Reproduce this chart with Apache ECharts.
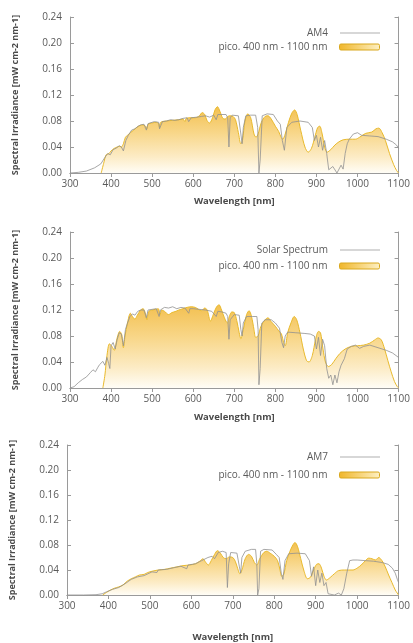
<!DOCTYPE html>
<html>
<head>
<meta charset="utf-8">
<script src="https://cdn.jsdelivr.net/npm/echarts@6/dist/echarts.min.js"></script>
<style>
  html, body { margin: 0; padding: 0; background: #fff; }
  #chart { width: 413px; height: 643px; }
</style>
</head>
<body>
<div id="chart"></div>
<script>
// [wavelength nm, irradiance]
const am4 = [[300,0],[320,0.001],[340,0.003],[360,0.008],[375,0.014],[385,0.024],[392,0.03],[398,0.028],[405,0.036],[412,0.038],[420,0.042],[425,0.04],[430,0.034],[436,0.05],[442,0.058],[450,0.066],[458,0.068],[466,0.072],[472,0.074],[480,0.075],[486,0.066],[490,0.076],[495,0.077],[505,0.079],[516,0.078],[518,0.068],[525,0.079],[535,0.08],[545,0.082],[555,0.081],[565,0.082],[575,0.084],[585,0.085],[589,0.079],[595,0.085],[610,0.086],[620,0.087],[630,0.088],[640,0.086],[650,0.089],[656,0.082],[660,0.09],[670,0.09],[680,0.09],[684,0.085],[687,0.04],[690,0.085],[695,0.089],[710,0.088],[716,0.06],[719,0.045],[722,0.07],[728,0.088],[740,0.089],[752,0.089],[757,0.07],[760,0],[763,0.02],[768,0.088],[780,0.091],[795,0.09],[805,0.08],[812,0.075],[817,0.05],[822,0.035],[828,0.07],[840,0.078],[860,0.08],[880,0.078],[890,0.07],[895,0.05],[900,0.058],[905,0.04],[910,0.055],[915,0.035],[920,0.05],[925,0.03],[930,0.005],[940,0.01],[950,0],[960,0.012],[965,0.006],[970,0.03],[975,0.045],[980,0.052],[990,0.06],[1000,0.062],[1010,0.058],[1030,0.057],[1050,0.056],[1070,0.052],[1085,0.048],[1095,0.043],[1100,0.038]];

const pico1 = [[376,0],[382,0.015],[388,0.028],[395,0.03],[400,0.034],[408,0.038],[415,0.04],[420,0.041],[425,0.04],[430,0.045],[435,0.055],[440,0.058],[447,0.062],[455,0.066],[462,0.07],[470,0.073],[478,0.074],[484,0.072],[487,0.068],[490,0.075],[500,0.077],[510,0.078],[516,0.076],[518,0.07],[521,0.078],[535,0.08],[550,0.081],[565,0.082],[575,0.083],[580,0.079],[583,0.084],[595,0.085],[605,0.085],[615,0.088],[622,0.093],[628,0.09],[634,0.08],[640,0.077],[647,0.085],[653,0.097],[659,0.102],[665,0.095],[672,0.084],[678,0.083],[684,0.087],[690,0.088],[697,0.087],[703,0.082],[710,0.062],[716,0.045],[720,0.05],[726,0.08],[733,0.091],[740,0.085],[748,0.06],[753,0.055],[758,0.06],[766,0.078],[775,0.087],[782,0.088],[790,0.083],[800,0.072],[808,0.064],[814,0.055],[818,0.052],[824,0.06],[832,0.078],[840,0.092],[847,0.097],[853,0.09],[862,0.065],[872,0.04],[880,0.032],[888,0.038],[896,0.055],[903,0.07],[908,0.072],[914,0.06],[920,0.04],[926,0.032],[935,0.036],[945,0.043],[955,0.048],[965,0.051],[980,0.052],[995,0.052],[1005,0.055],[1020,0.061],[1035,0.063],[1045,0.068],[1052,0.069],[1060,0.062],[1068,0.05],[1078,0.03],[1088,0.013],[1095,0.004],[1100,0]];

const solar = [[300,0],[310,0.002],[320,0.008],[330,0.013],[340,0.017],[350,0.024],[356,0.028],[362,0.025],[368,0.032],[372,0.036],[376,0.033],[380,0.041],[385,0.035],[390,0.047],[394,0.038],[397,0.03],[400,0.065],[405,0.07],[410,0.06],[415,0.075],[420,0.085],[425,0.083],[430,0.065],[435,0.09],[440,0.1],[446,0.11],[452,0.114],[458,0.112],[465,0.118],[472,0.12],[480,0.12],[486,0.108],[490,0.12],[500,0.121],[510,0.122],[517,0.11],[520,0.12],[530,0.124],[540,0.123],[550,0.125],[560,0.122],[570,0.124],[580,0.123],[589,0.115],[592,0.122],[600,0.122],[615,0.121],[630,0.12],[645,0.118],[656,0.11],[660,0.118],[670,0.117],[680,0.115],[684,0.11],[687,0.075],[690,0.105],[700,0.113],[712,0.112],[716,0.09],[719,0.08],[722,0.1],[730,0.11],[745,0.11],[755,0.11],[758,0.09],[760,0.005],[763,0.03],[767,0.1],[775,0.105],[790,0.105],[800,0.1],[810,0.092],[816,0.07],[820,0.062],[824,0.08],[830,0.086],[850,0.085],[870,0.084],[885,0.083],[895,0.08],[900,0.06],[905,0.078],[910,0.05],[915,0.075],[920,0.065],[925,0.03],[930,0.015],[935,0.02],[940,0.005],[945,0.02],[950,0.008],[955,0.025],[960,0.035],[968,0.045],[975,0.06],[985,0.064],[995,0.066],[1005,0.061],[1015,0.064],[1030,0.066],[1050,0.062],[1070,0.058],[1085,0.054],[1100,0.047]];

const pico2 = [[380,0],[385,0.02],[390,0.05],[396,0.068],[402,0.064],[408,0.058],[414,0.075],[421,0.087],[426,0.082],[430,0.062],[434,0.08],[440,0.1],[447,0.115],[452,0.11],[458,0.106],[464,0.112],[472,0.12],[478,0.122],[484,0.114],[487,0.105],[492,0.118],[500,0.12],[508,0.121],[515,0.122],[519,0.112],[523,0.12],[530,0.118],[540,0.113],[548,0.116],[558,0.118],[565,0.12],[575,0.122],[585,0.124],[595,0.125],[605,0.124],[613,0.121],[620,0.119],[628,0.123],[634,0.12],[642,0.103],[650,0.115],[657,0.125],[663,0.128],[669,0.12],[676,0.108],[683,0.1],[688,0.11],[694,0.117],[700,0.116],[706,0.104],[712,0.085],[716,0.076],[722,0.09],[730,0.113],[736,0.119],[742,0.11],[748,0.09],[752,0.078],[758,0.08],[765,0.095],[775,0.105],[782,0.108],[790,0.102],[800,0.095],[808,0.088],[815,0.083],[820,0.07],[824,0.065],[830,0.085],[838,0.1],[846,0.11],[852,0.105],[860,0.085],[868,0.06],[876,0.042],[882,0.04],[890,0.05],[898,0.075],[905,0.087],[910,0.085],[916,0.06],[922,0.04],[929,0.033],[937,0.036],[947,0.045],[957,0.053],[970,0.06],[985,0.064],[1000,0.065],[1015,0.066],[1030,0.069],[1042,0.074],[1050,0.077],[1058,0.074],[1066,0.06],[1074,0.042],[1082,0.025],[1090,0.01],[1097,0.002],[1100,0]];

const am7 = [[300,0],[340,0],[370,0.0005],[385,0.002],[395,0.005],[410,0.009],[425,0.012],[440,0.018],[455,0.025],[470,0.029],[486,0.031],[490,0.034],[505,0.037],[517,0.036],[520,0.04],[540,0.041],[560,0.044],[575,0.046],[589,0.042],[592,0.048],[610,0.05],[625,0.055],[640,0.06],[650,0.062],[656,0.058],[665,0.068],[675,0.07],[684,0.068],[687,0.012],[690,0.05],[695,0.068],[710,0.067],[716,0.045],[719,0.035],[722,0.06],[730,0.07],[745,0.073],[755,0.073],[758,0.05],[760,0],[763,0.01],[767,0.07],[775,0.073],[795,0.072],[805,0.065],[812,0.06],[817,0.035],[821,0.025],[826,0.055],[835,0.066],[855,0.067],[875,0.066],[885,0.055],[890,0.03],[895,0.045],[900,0.015],[905,0.04],[910,0.02],[915,0.035],[920,0.015],[925,0.02],[930,0.002],[945,0],[955,0.003],[962,0],[968,0.01],[975,0.035],[982,0.055],[990,0.056],[1000,0.056],[1020,0.055],[1040,0.054],[1060,0.052],[1075,0.049],[1085,0.043],[1092,0.035],[1097,0.025],[1100,0.02]];

const pico3 = [[386,0],[395,0.004],[405,0.008],[415,0.011],[425,0.013],[435,0.016],[445,0.022],[455,0.026],[465,0.029],[475,0.032],[486,0.033],[495,0.036],[505,0.038],[520,0.04],[535,0.041],[550,0.043],[565,0.045],[580,0.047],[595,0.048],[610,0.05],[620,0.054],[628,0.058],[635,0.052],[641,0.048],[648,0.055],[656,0.065],[663,0.071],[670,0.067],[677,0.06],[684,0.058],[692,0.061],[700,0.06],[706,0.054],[712,0.042],[717,0.034],[722,0.04],[730,0.058],[738,0.065],[745,0.062],[752,0.052],[758,0.048],[765,0.058],[775,0.068],[782,0.07],[790,0.067],[800,0.062],[808,0.055],[814,0.04],[818,0.03],[823,0.033],[830,0.055],[838,0.07],[845,0.08],[850,0.084],[856,0.078],[864,0.058],[872,0.038],[880,0.026],[887,0.028],[895,0.04],[902,0.049],[908,0.05],[914,0.043],[920,0.03],[926,0.024],[935,0.028],[945,0.034],[955,0.039],[970,0.04],[990,0.04],[1000,0.043],[1010,0.048],[1020,0.055],[1028,0.059],[1036,0.058],[1044,0.056],[1052,0.06],[1060,0.055],[1068,0.045],[1076,0.032],[1084,0.02],[1092,0.008],[1100,0]];

const spectrumNames = ["AM4", "Solar Spectrum", "AM7"];
const picoName = "pico. 400 nm - 1100 nm";
const xTitle = "Wavelength [nm]";
const yTitle = "Spectral Irradiance [mW cm-2 nm-1]";

const panels = [
  { spectrum: am4, pico: pico1, grid: { left: 70, top: 17, width: 334, height: 156 }, legendTop: [23, 37], xGap: 23 },
  { spectrum: solar, pico: pico2, grid: { left: 70, top: 232, width: 334, height: 156 }, legendTop: [240, 256], xGap: 24 },
  { spectrum: am7, pico: pico3, grid: { left: 63, top: 445, width: 340, height: 154 }, legendTop: [447, 465], xGap: 37 },
];

const FONT = "Open Sans";
const FRAME = { lineStyle: { color: "#9a9a9a", width: 1 } };
const TICK = { show: true, inside: true, length: 4, lineStyle: { color: "#9a9a9a" } };
const LABEL_COLOR = "#5a5a5a";

function fillGradient() {
  return new echarts.graphic.LinearGradient(0, 0, 0, 1, [
    { offset: 0, color: "#f3c050" },
    { offset: 0.4, color: "#f8d78a" },
    { offset: 0.75, color: "#fcebc4" },
    { offset: 1, color: "#fffdf6" },
  ]);
}

const option = { animation: false, backgroundColor: "#fff", grid: [], xAxis: [], yAxis: [], series: [], legend: [] };

panels.forEach((p, i) => {
  option.grid.push(p.grid);
  // bottom + mirrored top
  option.xAxis.push({
    type: "value", gridIndex: i, min: 300, max: 1100, interval: 100, position: "bottom",
    axisLine: { show: true, ...FRAME }, axisTick: TICK, splitLine: { show: false },
    axisLabel: { color: LABEL_COLOR, fontFamily: FONT, fontSize: 10, margin: 6, formatter: (v) => String(v) },
    name: xTitle, nameLocation: "middle", nameGap: p.xGap,
    nameTextStyle: { color: "#4a4a4a", fontFamily: FONT, fontSize: 9.5, fontWeight: "bold" },
  });
  option.xAxis.push({
    type: "value", gridIndex: i, min: 300, max: 1100, interval: 100, position: "top",
    axisLine: { show: true, ...FRAME }, axisTick: TICK, axisLabel: { show: false }, splitLine: { show: false },
  });
  option.yAxis.push({
    type: "value", gridIndex: i, min: 0, max: 0.24, interval: 0.04, position: "left",
    axisLine: { show: true, ...FRAME }, axisTick: TICK, splitLine: { show: false },
    axisLabel: { color: LABEL_COLOR, fontFamily: FONT, fontSize: 10, margin: 8, formatter: (v) => v.toFixed(2) },
    name: yTitle, nameLocation: "middle", nameGap: 50,
    nameTextStyle: { color: "#4a4a4a", fontFamily: FONT, fontSize: 9, fontWeight: "bold" },
  });
  option.yAxis.push({
    type: "value", gridIndex: i, min: 0, max: 0.24, interval: 0.04, position: "right",
    axisLine: { show: true, ...FRAME }, axisTick: TICK, axisLabel: { show: false }, splitLine: { show: false },
  });

  option.series.push({
    name: picoName, type: "line", xAxisIndex: 2 * i, yAxisIndex: 2 * i,
    data: p.pico, showSymbol: false, smooth: 0.3,
    lineStyle: { color: "#e8b92c", width: 1 },
    itemStyle: { color: "#e8b92c" },
    areaStyle: { color: fillGradient(), opacity: 1 },
    z: 2,
  });
  option.series.push({
    name: spectrumNames[i], type: "line", xAxisIndex: 2 * i, yAxisIndex: 2 * i,
    data: p.spectrum, showSymbol: false,
    lineStyle: { color: "#909090", width: 0.8 },
    itemStyle: { color: "#909090" },
    z: 3,
  });

  const legendText = { color: LABEL_COLOR, fontFamily: FONT, fontSize: 10, padding: [0, 7, 0, 0] };
  option.legend.push({
    top: p.legendTop[0], right: 28, align: "right", selectedMode: false,
    itemWidth: 40, itemHeight: 1, textStyle: legendText,
    data: [{ name: spectrumNames[i], icon: "rect", itemStyle: { color: "#b0b0b0" } }],
  });
  option.legend.push({
    top: p.legendTop[1], right: 28, align: "right", selectedMode: false,
    itemWidth: 40, itemHeight: 6, textStyle: legendText,
    data: [{
      name: picoName, icon: "roundRect",
      itemStyle: {
        color: new echarts.graphic.LinearGradient(0, 0, 1, 0, [
          { offset: 0, color: "#f0b62a" }, { offset: 1, color: "#fdf0c4" },
        ]),
        borderColor: "#d9a81f", borderWidth: 1,
      },
    }],
  });
});

const chart = echarts.init(document.getElementById("chart"), null, { renderer: "canvas" });
chart.setOption(option);
</script>
</body>
</html>
